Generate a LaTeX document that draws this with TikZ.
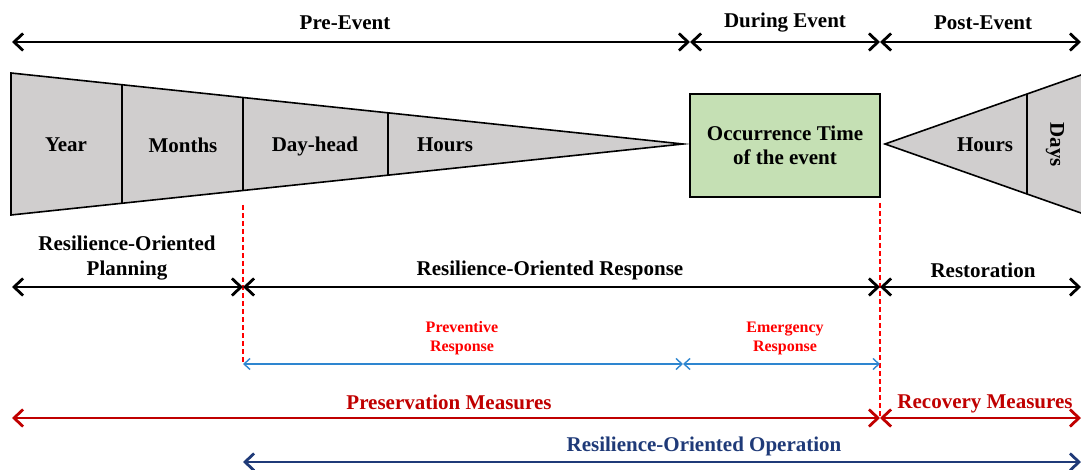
\documentclass[tikz,border=0pt]{standalone}
\usepackage{fontspec}
\setmainfont{Liberation Serif}
\usetikzlibrary{arrows.meta}
\definecolor{wedgegray}{HTML}{D0CECE}
\definecolor{boxgreen}{HTML}{C5E0B4}
\definecolor{darkred}{HTML}{C00000}
\definecolor{navy}{HTML}{1F3A78}
\definecolor{lightblue}{HTML}{2E86D0}
\tikzset{
  lbl/.style={font=\bfseries\fontsize{21}{24}\selectfont, align=center, inner sep=0pt},
  small/.style={font=\bfseries\fontsize{16}{19}\selectfont, align=center, inner sep=0pt, text=red},
  blk/.style={line width=2.8pt, {Straight Barb[length=9pt,width=17pt]}-{Straight Barb[length=9pt,width=17pt]}},
  blu/.style={line width=1.4pt, lightblue, {Straight Barb[length=6pt,width=11pt]}-{Straight Barb[length=6pt,width=11pt]}},
  redarr/.style={line width=2.8pt, darkred, {Straight Barb[length=9pt,width=17pt]}-{Straight Barb[length=9pt,width=17pt]}},
  navarr/.style={line width=2.8pt, navy, {Straight Barb[length=9pt,width=17pt]}-{Straight Barb[length=9pt,width=17pt]}},
  wedge/.style={draw=black, line width=1.6pt, fill=wedgegray, line join=miter},
  divider/.style={draw=black, line width=1.6pt},
  vdash/.style={red, line width=1.3pt, dashed, dash pattern=on 5pt off 3pt}
}
\begin{document}
\begin{tikzpicture}[x=1pt,y=-1pt]
\useasboundingbox (0,0) rectangle (1081,470);
\clip (0,0) rectangle (1081,470);
% coordinates
\coordinate (tL) at (12,42);
\coordinate (tA) at (690,42);
\coordinate (tB) at (880,42);
\coordinate (tR) at (1081,42);
\coordinate (mL) at (12,287);
\coordinate (mA) at (243,287);
\coordinate (mB) at (880,287);
\coordinate (mR) at (1081,287);
\coordinate (bA) at (243,364);
\coordinate (bB) at (683,364);
\coordinate (bC) at (880,364);
\coordinate (rL) at (12,418);
\coordinate (rA) at (880,418);
\coordinate (rR) at (1081,418);
\coordinate (nA) at (243,462);
\coordinate (nR) at (1081,462);
\coordinate (d1t) at (243,205);
\coordinate (d2t) at (880,203);
\coordinate (d2b) at (880,418);
% top arrows
\draw[blk] (tL) -- (tA);
\draw[blk] (tA) -- (tB);
\draw[blk] (tB) -- (tR);
\node[lbl] (pre) at (345,23) {Pre-Event};
\node[lbl] (dur) at (785,23) {During Event};
\node[lbl] (post) at (983,23) {Post-Event};
% left wedge
\draw[wedge] (11,73) -- (683,144) -- (11,215) -- cycle;
\draw[divider] (122,84.7) -- (122,203.3);
\draw[divider] (243,97.4) -- (243,190.6);
\draw[divider] (388,112.8) -- (388,175.2);
\node[lbl] (year) at (66,145) {Year};
\node[lbl] (months) at (183,145) {Months};
\node[lbl] (dayhead) at (315,146.5) {Day-head};
\node[lbl] (hours1) at (445,145) {Hours};
% green box
\node[draw=black, line width=1.6pt, fill=boxgreen, minimum width=190pt, minimum height=103pt, inner sep=0pt] (occ) at (785,145.5) {};
\node[lbl] (occtxt) at (785,145) {Occurrence Time\\of the event};
% right wedge
\draw[wedge] (885,144) -- (1100,68.3) -- (1100,219.7) -- cycle;
\draw[divider] (1027,94) -- (1027,194);
\node[lbl] (hours2) at (985,145) {Hours};
\node[lbl, rotate=-90] (days) at (1055,145) {Days};
% dashed verticals
\draw[vdash] (d1t) -- (bA);
\draw[vdash] (d2t) -- (d2b);
% middle arrows
\node[lbl, font=\bfseries\fontsize{21}{25}\selectfont] (rop) at (127,258) {Resilience-Oriented\\Planning};
\node[lbl] (ror) at (550,270) {Resilience-Oriented Response};
\node[lbl] (rest) at (983,270) {Restoration};
\draw[blk] (mL) -- (mA);
\draw[blk] (mA) -- (mB);
\draw[blk] (mB) -- (mR);
% blue arrows
\node[small] (prev) at (462,338) {Preventive\\Response};
\node[small] (emer) at (785,338) {Emergency\\Response};
\draw[blu] (bA) -- (bB);
\draw[blu] (bB) -- (bC);
% red arrows
\node[lbl, text=darkred] (pres) at (449,402) {Preservation Measures};
\node[lbl, text=darkred] (rec) at (985,403.5) {Recovery Measures};
\draw[redarr] (rL) -- (rA);
\draw[redarr] (rA) -- (rR);
% navy arrow
\node[lbl, text=navy] (roo) at (704,446) {Resilience-Oriented Operation};
\draw[navarr] (nA) -- (nR);
\end{tikzpicture}
\end{document}
